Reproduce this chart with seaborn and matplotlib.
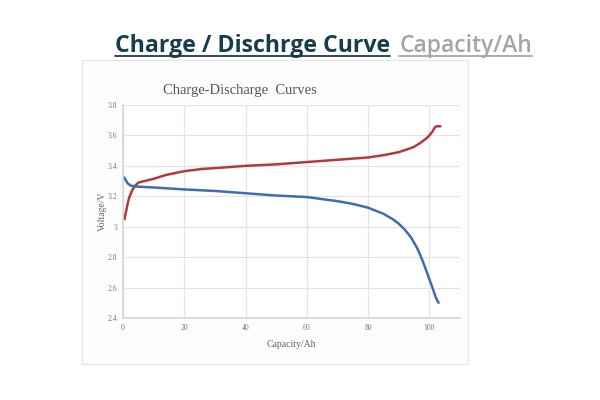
import numpy as np
import pandas as pd
import matplotlib
matplotlib.use("Agg")
import matplotlib.pyplot as plt
from matplotlib.patches import Rectangle
from matplotlib.lines import Line2D
from matplotlib.ticker import FuncFormatter
import seaborn as sns

######################## DATA ########################
charge_cap = [0.5, 1.0, 1.5, 2.0, 3.0, 4.0, 5.0, 7.0, 10, 14, 20, 26, 30, 40, 50, 60, 70,
              80, 85, 90, 93, 95, 97, 98, 99, 100, 101, 101.7, 102.2, 103, 103.6]
charge_volt = [3.05, 3.10, 3.15, 3.19, 3.24, 3.27, 3.29, 3.30, 3.315, 3.34, 3.365, 3.38, 3.385,
               3.40, 3.41, 3.425, 3.44, 3.455, 3.47, 3.49, 3.51, 3.525, 3.55, 3.565, 3.58,
               3.60, 3.625, 3.65, 3.66, 3.66, 3.66]

discharge_cap = [0.3, 0.8, 1.5, 2.5, 4, 6, 10, 20, 30, 40, 50, 60, 70, 75, 80, 85, 88, 90,
                 92, 94, 95, 96, 97, 98, 99, 100, 101, 102, 103]
discharge_volt = [3.325, 3.31, 3.285, 3.27, 3.265, 3.262, 3.258, 3.245, 3.235, 3.22, 3.205,
                  3.195, 3.168, 3.15, 3.125, 3.085, 3.05, 3.02, 2.98, 2.93, 2.895, 2.86,
                  2.815, 2.765, 2.71, 2.655, 2.60, 2.54, 2.50]

x_ticks = [0, 20, 40, 60, 80, 100]
y_ticks = [2.4, 2.6, 2.8, 3.0, 3.2, 3.4, 3.6, 3.8]

df = pd.concat([
    pd.DataFrame({'cap': charge_cap, 'volt': charge_volt, 'curve': 'charge'}),
    pd.DataFrame({'cap': discharge_cap, 'volt': discharge_volt, 'curve': 'discharge'}),
])

######################## FIGURE ########################
sns.set_theme(style="whitegrid")
plt.rcParams['font.family'] = ['Liberation Serif', 'DejaVu Serif']

fig = plt.figure(figsize=(6, 4), dpi=100)
fig.patch.set_facecolor('white')

# light panel behind the chart (screenshot frame)
fig.add_artist(Rectangle((82/600, 1-364/400), 386/600, 304/400, transform=fig.transFigure,
                         facecolor='#fdfdfd', edgecolor='#e6e6e6', linewidth=1.0, zorder=0))

ax = fig.add_axes([123/600, 1-318/400, 337/600, 213/400])
ax.set_facecolor('white')
sns.lineplot(data=df, x='cap', y='volt', hue='curve',
             palette={'charge': '#b23a3c', 'discharge': '#3f6db0'},
             linewidth=1.8, legend=False, ax=ax, sort=False)

ax.set_xlim(0, 110)
ax.set_ylim(2.4, 3.8)
ax.set_xticks(x_ticks)
ax.set_yticks(y_ticks)
ax.yaxis.set_major_formatter(FuncFormatter(lambda v, p: f'{v:g}'))
ax.tick_params(axis='both', labelsize=5.5, colors='#777777', length=0, pad=4)
ax.grid(True, color='#e4e4e4', linewidth=0.9)
for side in ['top', 'right']:
    ax.spines[side].set_visible(False)
for side in ['left', 'bottom']:
    ax.spines[side].set_color('#d6d6d6')
    ax.spines[side].set_linewidth(1.2)

ax.set_xlabel('Capacity/Ah', fontsize=7, color='#666666', labelpad=6)
ax.set_ylabel('Voltage/V', fontsize=7, color='#666666', labelpad=1)
ax.set_title('Charge-Discharge  Curves', fontsize=10.5, color='#555555', x=0.347, pad=8)

######################## HEADER ########################
fig.canvas.draw()
renderer = fig.canvas.get_renderer()
t1 = fig.text(115/600, 1-52/400, 'Charge / Dischrge Curve', fontsize=16.7, fontweight='bold',
              color='#173d4d', family=['Open Sans', 'DejaVu Sans'], va='baseline')
bb1 = t1.get_window_extent(renderer).transformed(fig.transFigure.inverted())
t2 = fig.text(bb1.x1 + 9/600, 1-52/400, 'Capacity/Ah', fontsize=16.5, fontweight='semibold',
              color='#a5a5a5', family=['Open Sans', 'DejaVu Sans'], va='baseline')
bb2 = t2.get_window_extent(renderer).transformed(fig.transFigure.inverted())
uy = 1 - 55.5/400
fig.add_artist(Line2D([bb1.x0, bb1.x1], [uy, uy], color='#173d4d', linewidth=1.3,
                      transform=fig.transFigure))
fig.add_artist(Line2D([bb2.x0, bb2.x1], [uy, uy], color='#a5a5a5', linewidth=1.3,
                      transform=fig.transFigure))

fig.savefig('out.png', dpi=100)
